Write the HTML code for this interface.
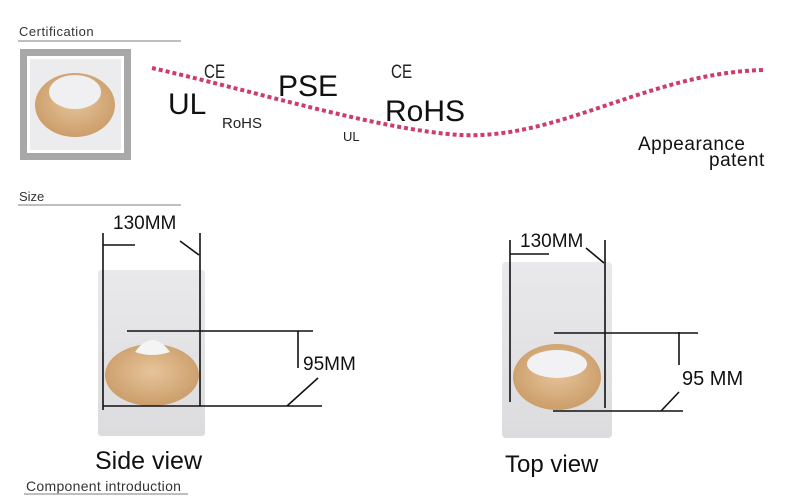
<!DOCTYPE html>
<html><head><meta charset="utf-8"><style>
body{margin:0;background:#fff}
svg{display:block}
text{font-family:"Liberation Sans",sans-serif}
</style></head><body>
<svg width="800" height="499" viewBox="0 0 800 499" xmlns="http://www.w3.org/2000/svg">
<defs>
<radialGradient id="wood" cx="0.5" cy="0.45" r="0.6">
<stop offset="0" stop-color="#e6c49a"/><stop offset="1" stop-color="#c99a66"/>
</radialGradient>
<linearGradient id="bg" x1="0" y1="0" x2="0" y2="1"><stop offset="0" stop-color="#e9e9ec"/><stop offset="1" stop-color="#dcdcdf"/></linearGradient>
</defs>
<!-- headings -->
<text x="19" y="36" font-size="13" fill="#333" letter-spacing="0.5">Certification</text>
<line x1="18" y1="41" x2="181" y2="41" stroke="#aaa" stroke-width="1.5"/>
<text x="19" y="201" font-size="13" fill="#333">Size</text>
<line x1="18" y1="205" x2="181" y2="205" stroke="#aaa" stroke-width="1.5"/>
<text x="26" y="491" font-size="14" fill="#333" letter-spacing="0.3">Component introduction</text>
<line x1="24" y1="494" x2="188" y2="494" stroke="#aaa" stroke-width="1.5"/>
<!-- cert image -->
<rect x="20" y="49" width="111" height="111" fill="#a8a8a8"/>
<rect x="27" y="56" width="97" height="97" fill="#fff"/>
<rect x="30" y="59" width="91" height="91" fill="#ececee"/>
<ellipse cx="75" cy="105" rx="40" ry="32" fill="url(#wood)"/>
<ellipse cx="75" cy="92" rx="26" ry="17" fill="#f0f0f2"/>
<!-- dotted curve -->
<path d="M152 68 C 250 90, 380 130, 460 135 C 560 140, 650 72, 765 70" fill="none" stroke="#cc3d6e" stroke-width="4" stroke-dasharray="4 3"/>
<text x="204" y="78" font-size="19" fill="#222" transform="translate(204 78) scale(0.8 1) translate(-204 -78)">CE</text>
<text x="168" y="114" font-size="30" fill="#111">UL</text>
<text x="222" y="128" font-size="15" fill="#222">RoHS</text>
<text x="278" y="96" font-size="30" fill="#111">PSE</text>
<text x="343" y="141" font-size="13" fill="#222">UL</text>
<text x="391" y="78" font-size="19" fill="#222" transform="translate(391 78) scale(0.8 1) translate(-391 -78)">CE</text>
<text x="385" y="121" font-size="30" fill="#111">RoHS</text>
<text x="638" y="150" font-size="19" fill="#111" letter-spacing="0.5">Appearance</text>
<text x="709" y="166" font-size="19" fill="#111" letter-spacing="0.5">patent</text>
<!-- side view -->
<rect x="98" y="270" width="107" height="166" rx="3" fill="url(#bg)"/>
<ellipse cx="152" cy="375" rx="47" ry="31" fill="url(#wood)"/>
<path d="M135 352 Q152 328 170 352 Q152 358 135 352 Z" fill="#f4f4f4"/>
<g stroke="#111" stroke-width="1.6" fill="none">
<line x1="103" y1="233" x2="103" y2="410"/>
<line x1="200" y1="233" x2="200" y2="406"/>
<line x1="103" y1="245" x2="135" y2="245"/>
<line x1="180" y1="241" x2="199" y2="255"/>
<line x1="127" y1="331" x2="313" y2="331"/>
<line x1="298" y1="331" x2="298" y2="368"/>
<line x1="103" y1="406" x2="322" y2="406"/>
<line x1="287" y1="406" x2="318" y2="378"/>
</g>
<text x="113" y="229" font-size="19" fill="#111">130MM</text>
<text x="303" y="370" font-size="19" fill="#111">95MM</text>
<text x="95" y="469" font-size="25" fill="#111">Side view</text>
<!-- top view -->
<rect x="502" y="262" width="110" height="176" rx="4" fill="url(#bg)"/>
<ellipse cx="557" cy="377" rx="44" ry="33" fill="url(#wood)"/>
<ellipse cx="557" cy="364" rx="30" ry="14" fill="#f2f2f4"/>
<g stroke="#111" stroke-width="1.6" fill="none">
<line x1="510" y1="240" x2="510" y2="402"/>
<line x1="605" y1="240" x2="605" y2="408"/>
<line x1="510" y1="254" x2="549" y2="254"/>
<line x1="586" y1="248" x2="604" y2="263"/>
<line x1="554" y1="333" x2="698" y2="333"/>
<line x1="679" y1="332" x2="679" y2="365"/>
<line x1="553" y1="411" x2="683" y2="411"/>
<line x1="661" y1="411" x2="679" y2="392"/>
</g>
<text x="520" y="247" font-size="19" fill="#111">130MM</text>
<text x="682" y="385" font-size="20" fill="#111">95 MM</text>
<text x="505" y="472" font-size="24" fill="#111">Top view</text>
</svg>
</body></html>
